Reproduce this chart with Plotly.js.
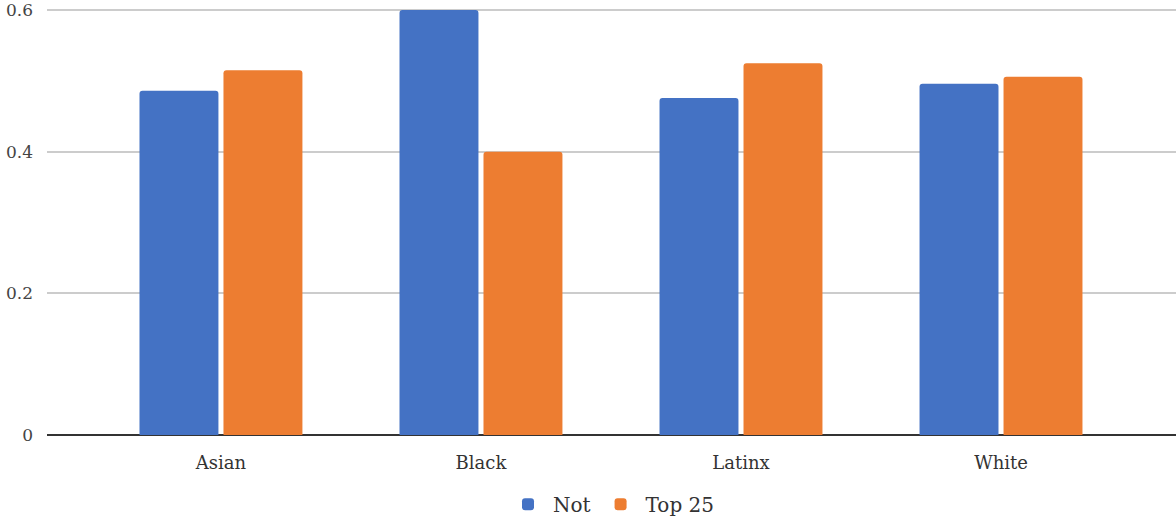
<!DOCTYPE html>
<html>
<head>
<meta charset="utf-8">
<script src="https://cdn.plot.ly/plotly-3.0.1.min.js"></script>
<style>html,body{margin:0;padding:0;background:#fff;}#chart{width:1176px;height:529px;}</style>
</head>
<body>
<div id="chart"></div>
<script>
const categories = ["Asian", "Black", "Latinx", "White"];
const notValues = [0.486, 0.600, 0.476, 0.496];
const top25Values = [0.515, 0.400, 0.525, 0.506];
const yTicks = [0, 0.2, 0.4, 0.6];
const yTickLabels = ["0", "0.2", "0.4", "0.6"];

const FONT = "DejaVu Serif";
const traces = [
  {type: "bar", name: "Not", x: categories, y: notValues, marker: {color: "#4472C4"}},
  {type: "bar", name: "Top 25", x: categories, y: top25Values, marker: {color: "#ED7D31"}}
];
const layout = {
  width: 1176, height: 529,
  margin: {l: 47, r: 0, t: 3, b: 94},
  paper_bgcolor: "#fff", plot_bgcolor: "#fff",
  font: {family: FONT, size: 18, color: "#444"},
  barmode: "group", bargap: 0.354, bargroupgap: 0.06, barcornerradius: 3,
  xaxis: {range: [-0.669, 3.673], showgrid: false, showline: false, ticks: "", ticklabelstandoff: 15,
          tickfont: {family: FONT, size: 18, color: "#333"}, fixedrange: true, automargin: false},
  yaxis: {range: [0, 0.61], tickvals: yTicks, ticktext: yTickLabels, showgrid: true, gridcolor: "#ccc", gridwidth: 2,
          zeroline: true, zerolinecolor: "#333", zerolinewidth: 2, ticks: "", ticklabelstandoff: 13, ticklabeloverflow: "allow",
          tickfont: {family: FONT, size: 17, color: "#444"}, fixedrange: true, automargin: false},
  legend: {orientation: "h", x: 0.5, xanchor: "center", y: -0.115, yanchor: "top", font: {family: FONT, size: 20, color: "#333"}, itemwidth: 40},
  showlegend: true
};
Plotly.newPlot("chart", traces, layout, {displayModeBar: false, staticPlot: true});
</script>
</body>
</html>
